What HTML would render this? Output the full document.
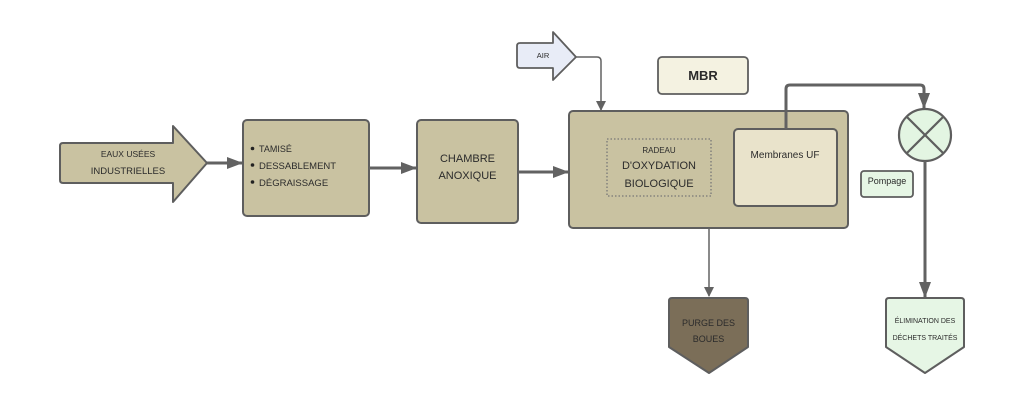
<!DOCTYPE html>
<html><head><meta charset="utf-8"><style>
html,body{margin:0;padding:0;background:#fff;}
svg{display:block;}
text{font-family:"Liberation Sans",Arial,sans-serif;fill:#2b2b2b;}
</style></head><body>
<svg width="1024" height="406" viewBox="0 0 1024 406" xmlns="http://www.w3.org/2000/svg">
<defs>
<marker id="ah" markerWidth="10" markerHeight="10" refX="9" refY="5" orient="auto" markerUnits="userSpaceOnUse" viewBox="0 0 10 10">
<path d="M0,0 L10,5 L0,10 z" fill="#626262"/></marker>
<marker id="ahb" markerWidth="16" markerHeight="12" refX="15" refY="6" orient="auto" markerUnits="userSpaceOnUse" viewBox="0 0 16 12">
<path d="M0,0 L16,6 L0,12 z" fill="#626262"/></marker>
</defs>

<!-- Input arrow -->
<path d="M63,143 L173,143 L173,126 L207,163 L173,202 L173,183 L63,183 Q60,183 60,180 L60,146 Q60,143 63,143 Z" fill="#c9c2a1" stroke="#5e5e5e" stroke-width="2" stroke-linejoin="round"/>
<text x="128" y="157" font-size="8.5" text-anchor="middle">EAUX USÉES</text>
<text x="128" y="174" font-size="9.5" text-anchor="middle">INDUSTRIELLES</text>

<!-- connector input -> box1 -->
<line x1="207" y1="163" x2="242" y2="163" stroke="#626262" stroke-width="3" marker-end="url(#ahb)"/>

<!-- Box1 -->
<rect x="243" y="120" width="126" height="96" rx="4" fill="#c9c2a1" stroke="#5e5e5e" stroke-width="2"/>
<circle cx="252.5" cy="148.5" r="1.8" fill="#222"/>
<circle cx="252.5" cy="165" r="1.8" fill="#222"/>
<circle cx="252.5" cy="182" r="1.8" fill="#222"/>
<text x="259" y="152" font-size="9">TAMISÉ</text>
<text x="259" y="169" font-size="9.5">DESSABLEMENT</text>
<text x="259" y="186" font-size="9.5">DÉGRAISSAGE</text>

<!-- box1 -> chambre -->
<line x1="369" y1="168" x2="416" y2="168" stroke="#626262" stroke-width="3" marker-end="url(#ahb)"/>

<!-- Chambre -->
<rect x="417" y="120" width="101" height="103" rx="4" fill="#c9c2a1" stroke="#5e5e5e" stroke-width="2"/>
<text x="467.5" y="162" font-size="11" text-anchor="middle">CHAMBRE</text>
<text x="467.5" y="179" font-size="11" text-anchor="middle">ANOXIQUE</text>

<!-- chambre -> MBR -->
<line x1="518" y1="172" x2="568" y2="172" stroke="#626262" stroke-width="3" marker-end="url(#ahb)"/>

<!-- AIR arrow -->
<path d="M520,43 L553,43 L553,32 L576,57 L553,80 L553,68 L520,68 Q517,68 517,65 L517,46 Q517,43 520,43 Z" fill="#e8ecf7" stroke="#5e5e5e" stroke-width="1.8" stroke-linejoin="round"/>
<text x="543" y="58" font-size="7.5" text-anchor="middle">AIR</text>
<path d="M576,57 L597,57 Q601,57 601,61 L601,110" fill="none" stroke="#626262" stroke-width="1.5" marker-end="url(#ah)"/>

<!-- MBR label -->
<rect x="658" y="57" width="90" height="37" rx="4" fill="#f4f2e1" stroke="#5e5e5e" stroke-width="1.8"/>
<text x="703" y="80" font-size="13" font-weight="bold" text-anchor="middle" fill="#1a1a1a">MBR</text>

<!-- MBR big box -->
<rect x="569" y="111" width="279" height="117" rx="4" fill="#c9c2a1" stroke="#5e5e5e" stroke-width="2"/>
<rect x="607" y="139" width="104" height="57" fill="none" stroke="#777" stroke-width="1.3" stroke-dasharray="1.5,2"/>
<text x="659" y="153" font-size="8" text-anchor="middle">RADEAU</text>
<text x="659" y="169" font-size="11" text-anchor="middle">D'OXYDATION</text>
<text x="659" y="187" font-size="11" text-anchor="middle">BIOLOGIQUE</text>

<rect x="734" y="129" width="103" height="77" rx="4" fill="#e9e3cb" stroke="#5e5e5e" stroke-width="2"/>
<text x="785" y="158" font-size="10" text-anchor="middle">Membranes UF</text>

<!-- membranes -> pump -->
<path d="M786,129 L786,89 Q786,85 790,85 L920,85 Q924,85 924,89 L924,108" fill="none" stroke="#626262" stroke-width="3" marker-end="url(#ahb)"/>

<!-- Pump circle -->
<circle cx="925" cy="135" r="26" fill="#e3f5e2" stroke="#5e5e5e" stroke-width="2.2"/>
<line x1="906.6" y1="116.6" x2="943.4" y2="153.4" stroke="#5e5e5e" stroke-width="2.2"/>
<line x1="943.4" y1="116.6" x2="906.6" y2="153.4" stroke="#5e5e5e" stroke-width="2.2"/>

<!-- Pompage -->
<rect x="861" y="171" width="52" height="26" rx="3" fill="#e6f6e5" stroke="#5e5e5e" stroke-width="1.8"/>
<text x="887" y="184" font-size="9" text-anchor="middle">Pompage</text>

<!-- pump -> elimination -->
<line x1="925" y1="161" x2="925" y2="297" stroke="#626262" stroke-width="3" marker-end="url(#ahb)"/>

<!-- purge line -->
<line x1="709" y1="228" x2="709" y2="296" stroke="#626262" stroke-width="1.5" marker-end="url(#ah)"/>

<!-- Purge shape -->
<path d="M672,298 L745,298 Q748,298 748,301 L748,347 L709,373 L669,347 L669,301 Q669,298 672,298 Z" fill="#7b6e58" stroke="#5e5e5e" stroke-width="2" stroke-linejoin="round"/>
<text x="708.5" y="326" font-size="9" text-anchor="middle" fill="#1a1a1a">PURGE DES</text>
<text x="708.5" y="342" font-size="9" text-anchor="middle" fill="#1a1a1a">BOUES</text>

<!-- Elimination shape -->
<path d="M889,298 L961,298 Q964,298 964,301 L964,347 L925,373 L886,347 L886,301 Q886,298 889,298 Z" fill="#e6f6e5" stroke="#5e5e5e" stroke-width="2" stroke-linejoin="round"/>
<text x="925" y="323" font-size="7" text-anchor="middle">ÉLIMINATION DES</text>
<text x="925" y="340" font-size="7" text-anchor="middle">DÉCHETS TRAITÉS</text>
</svg>
</body></html>
